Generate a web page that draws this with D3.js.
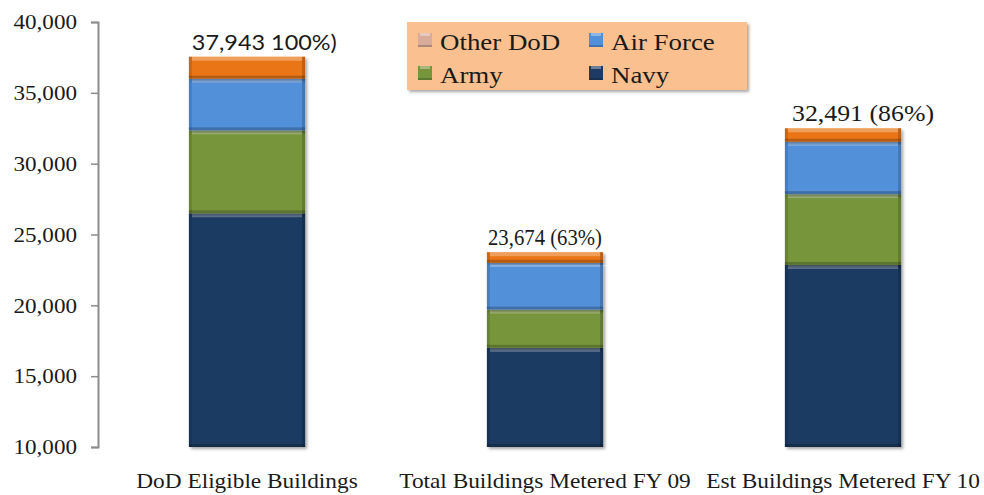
<!DOCTYPE html>
<meta charset="utf-8">
<style>

body {
  margin: 0;
  background: #fff;
}

</style>
<body>
<script src="https://cdn.jsdelivr.net/npm/d3@7"></script>
<script>

var categories = ["DoD Eligible Buildings", "Total Buildings Metered FY 09", "Est Buildings Metered FY 10"];
var seriesNames = ["Navy", "Army", "Air Force", "Other DoD"];

var navy = [26500, 17000, 22850];
var army = [5850, 2700, 5000];
var airForce = [3650, 3300, 3700];
var otherDoD = [1550, 750, 950];

var totalLabels = ["37,943 100%)", "23,674 (63%)", "32,491 (86%)"];
var yTicks = [10000, 15000, 20000, 25000, 30000, 35000, 40000];

var width = 984,
    height = 495;

var serif = "'Liberation Serif', 'Times New Roman', Times, 'DejaVu Serif', serif";

var colors = {
  "Navy": "#1f3a62",
  "Army": "#77963b",
  "Air Force": "#5290da",
  "Other DoD": "#ea7513"
};
var legendColors = {
  "Navy": "#1f3a62",
  "Army": "#77963b",
  "Air Force": "#5290da",
  "Other DoD": "#d8ab9b"
};

var svg = d3.select("body").append("svg")
    .attr("width", width)
    .attr("height", height)
    .style("font-family", serif)
    .style("display", "block");

var defs = svg.append("defs");
defs.append("filter")
    .attr("id", "shadow")
    .attr("x", "-10%").attr("y", "-10%")
    .attr("width", "130%").attr("height", "130%")
  .append("feDropShadow")
    .attr("dx", 2).attr("dy", 2)
    .attr("stdDeviation", 1.5)
    .attr("flood-color", "#000")
    .attr("flood-opacity", 0.35);

var x = d3.scaleBand()
    .domain(categories)
    .range([98, 992])
    .paddingInner(0.61)
    .paddingOuter(0.305);

var y = d3.scaleLinear()
    .domain([10000, 40000])
    .range([447, 22]);

// stretch serif text a bit wider, like the original picture
function widen(sel, k) {
  sel.each(function() {
    var w = this.getComputedTextLength();
    d3.select(this).attr("textLength", w * k).attr("lengthAdjust", "spacingAndGlyphs");
  });
}

// gridlines
svg.append("g")
    .selectAll("line")
    .data(yTicks.slice(1))
  .enter().append("line")
    .attr("x1", 98).attr("x2", width)
    .attr("y1", function(d) { return y(d); })
    .attr("y2", function(d) { return y(d); })
    .attr("stroke", "#ababab")
    .attr("stroke-width", 1.3)
    .attr("filter", "url(#shadow)");

// y axis
var yAxis = svg.append("g")
    .attr("transform", "translate(98,0)")
    .call(d3.axisLeft(y).tickValues(yTicks).tickFormat(d3.format(",")).tickSize(7).tickPadding(14));
yAxis.attr("font-family", null);
yAxis.select(".domain").attr("stroke", "#8c8c8c").attr("stroke-width", 2);
yAxis.selectAll(".tick line").attr("stroke", "#8c8c8c").attr("stroke-width", 1.5);
yAxis.selectAll(".tick text")
    .style("font-family", serif)
    .attr("font-size", 21)
    .attr("fill", "#1a1a1a")
    .call(widen, 1.1);

// stacked bars
var rows = categories.map(function(c, i) {
  return { cat: c, "Navy": navy[i], "Army": army[i], "Air Force": airForce[i], "Other DoD": otherDoD[i] };
});
var stack = d3.stack().keys(seriesNames)(rows);

var bars = svg.append("g");
stack.forEach(function(layer) {
  var g = bars.append("g");
  layer.forEach(function(d) {
    var bx = x(d.data.cat),
        bw = x.bandwidth(),
        y0 = Math.max(d[0], 10000),
        top = y(d[1]),
        h = y(y0) - y(d[1]);
    var seg = g.append("g");
    seg.append("rect")
        .attr("x", bx).attr("y", top)
        .attr("width", bw).attr("height", h)
        .attr("fill", colors[layer.key])
        .attr("filter", "url(#shadow)");
    // bevel: light top, dark bottom and sides
    seg.append("rect")
        .attr("x", bx + 3).attr("y", top)
        .attr("width", bw - 6).attr("height", Math.min(4, h))
        .attr("fill", "#fff").attr("opacity", 0.3);
    seg.append("rect")
        .attr("x", bx).attr("y", top + h - 3)
        .attr("width", bw).attr("height", 3)
        .attr("fill", "#000").attr("opacity", 0.22);
    seg.append("rect")
        .attr("x", bx).attr("y", top)
        .attr("width", 3).attr("height", h)
        .attr("fill", "#000").attr("opacity", 0.12);
    seg.append("rect")
        .attr("x", bx + bw - 3).attr("y", top)
        .attr("width", 3).attr("height", h)
        .attr("fill", "#000").attr("opacity", 0.18);
  });
});

// x axis baseline
svg.append("line")
    .attr("x1", 98).attr("x2", width)
    .attr("y1", y(10000)).attr("y2", y(10000))
    .attr("stroke", "#8c8c8c")
    .attr("stroke-width", 2)
    .attr("filter", "url(#shadow)");

// category labels
svg.append("g")
    .selectAll("text")
    .data(categories)
  .enter().append("text")
    .attr("x", function(d) { return x(d) + x.bandwidth() / 2; })
    .attr("y", 488)
    .attr("text-anchor", "middle")
    .style("font-family", serif)
    .attr("font-size", 21)
    .attr("fill", "#1a1a1a")
    .text(function(d) { return d; })
    .call(widen, 1.11);

// total labels over the bars
var top3 = stack[stack.length - 1];
var labelStyle = [
  { anchor: "start", dx: 3, font: "Lato, 'Open Sans', sans-serif", size: 22, len: 145 },
  { anchor: "middle", dx: 0, font: serif, size: 24, len: 114 },
  { anchor: "middle", dx: 20, font: serif, size: 24, len: 142 }
];
svg.append("g")
    .selectAll("text")
    .data(totalLabels)
  .enter().append("text")
    .attr("x", function(d, i) {
      var s = labelStyle[i];
      return x(categories[i]) + (s.anchor === "start" ? 0 : x.bandwidth() / 2) + s.dx;
    })
    .attr("y", function(d, i) { return y(top3[i][1]) - 7; })
    .attr("text-anchor", function(d, i) { return labelStyle[i].anchor; })
    .style("font-family", function(d, i) { return labelStyle[i].font; })
    .attr("font-size", function(d, i) { return labelStyle[i].size; })
    .attr("fill", "#1a1a1a")
    .attr("textLength", function(d, i) { return labelStyle[i].len; })
    .attr("lengthAdjust", "spacingAndGlyphs")
    .text(function(d) { return d; });

// legend
var legend = svg.append("g").attr("transform", "translate(407,22)");
legend.append("rect")
    .attr("width", 340).attr("height", 68)
    .attr("fill", "#fac08f")
    .attr("filter", "url(#shadow)");

var legendOrder = ["Other DoD", "Air Force", "Army", "Navy"];
var item = legend.selectAll(".item")
    .data(legendOrder)
  .enter().append("g")
    .attr("class", "item")
    .attr("transform", function(d, i) {
      return "translate(" + (11 + (i % 2) * 171) + "," + (11 + Math.floor(i / 2) * 33) + ")";
    });
item.append("rect")
    .attr("width", 14).attr("height", 14)
    .attr("fill", function(d) { return legendColors[d]; });
item.append("rect")
    .attr("x", 2).attr("width", 10).attr("height", 3)
    .attr("fill", "#fff").attr("opacity", 0.35);
item.append("rect")
    .attr("y", 12).attr("width", 14).attr("height", 2)
    .attr("fill", "#000").attr("opacity", 0.2);
item.append("text")
    .attr("x", 22).attr("y", 17)
    .style("font-family", serif)
    .attr("font-size", 24)
    .attr("fill", "#1a1a1a")
    .text(function(d) { return d; })
    .call(widen, 1.12);

</script>
